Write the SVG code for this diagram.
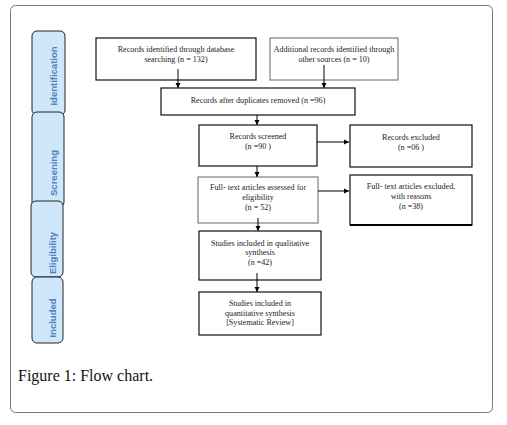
<svg xmlns="http://www.w3.org/2000/svg" width="507" height="425" viewBox="0 0 507 425">
<defs>
<marker id="ah" markerWidth="6" markerHeight="6" refX="5" refY="3" orient="auto" markerUnits="userSpaceOnUse">
<path d="M0,0.5 L5,3 L0,5.5 Z" fill="#000"/>
</marker>
<style>
.box{fill:#fff;stroke:#111;stroke-width:1.2}
.boxg{fill:#fff;stroke:#666;stroke-width:1}
.t{font-family:"Liberation Serif","Times New Roman",serif;font-size:8.1px;fill:#222;text-anchor:middle}
.tab{fill:#cfe7fb;stroke:#222;stroke-width:1}
.tt{font-family:"Liberation Sans",Arial,sans-serif;font-size:9.5px;font-weight:bold;fill:#4f7fbf;text-anchor:middle}
.c{stroke:#000;stroke-width:1;fill:none;marker-end:url(#ah)}
</style>
</defs>
<rect width="507" height="425" fill="#fff"/>
<rect x="10.5" y="5.5" width="482" height="407" rx="5" fill="#fff" stroke="#777" stroke-width="1"/>

<g id="tab-identification">
<rect class="tab" x="32" y="31" width="33" height="84" rx="5"/>
<text class="tt" transform="translate(57,76) rotate(-90)">Identification</text>
</g>
<g id="tab-screening">
<rect class="tab" x="32" y="112" width="32" height="95" rx="5"/>
<text class="tt" transform="translate(57,173) rotate(-90)">Screening</text>
</g>
<g id="tab-eligibility">
<rect class="tab" x="31" y="201" width="32" height="76" rx="5"/>
<text class="tt" transform="translate(56,253) rotate(-90)">Eligibility</text>
</g>
<g id="tab-included">
<rect class="tab" x="32" y="277" width="31" height="66" rx="5"/>
<text class="tt" transform="translate(56,318) rotate(-90)">Included</text>
</g>

<g id="box-database">
<rect class="box" x="96" y="38" width="160" height="42"/>
<text class="t" x="176" y="52">Records identified through database</text>
<text class="t" x="176" y="62">searching (n = 132)</text>
</g>
<g id="box-additional">
<rect class="boxg" x="270" y="38" width="128" height="42"/>
<text class="t" x="334" y="52">Additional records identified through</text>
<text class="t" x="334" y="62">other sources (n = 10)</text>
</g>
<g id="box-duplicates">
<rect class="box" x="161" y="88" width="194" height="27"/>
<text class="t" x="258" y="103">Records after duplicates removed (n =96)</text>
</g>
<g id="box-screened">
<rect class="box" x="199" y="125" width="118" height="41"/>
<text class="t" x="258" y="139">Records screened</text>
<text class="t" x="258" y="149">(n =90 )</text>
</g>
<g id="box-excluded">
<rect class="box" x="350" y="125" width="122" height="42"/>
<text class="t" x="411" y="140">Records excluded</text>
<text class="t" x="411" y="150">(n =06 )</text>
</g>
<g id="box-fulltext">
<rect class="boxg" x="198" y="177" width="120" height="46"/>
<text class="t" x="258" y="190">Full- text articles assessed for</text>
<text class="t" x="258" y="200">eligibility</text>
<text class="t" x="258" y="210">(n = 52)</text>
</g>
<g id="box-fulltext-excluded">
<rect class="box" x="350" y="175" width="122" height="50"/>
<line x1="350" y1="225" x2="472" y2="225" stroke="#000" stroke-width="2"/>
<text class="t" x="411" y="189">Full- text articles excluded,</text>
<text class="t" x="411" y="199">with reasons</text>
<text class="t" x="411" y="209">(n =38)</text>
</g>
<g id="box-qualitative">
<rect class="box" x="199" y="231" width="122" height="49"/>
<text class="t" x="260" y="246">Studies included in qualitative</text>
<text class="t" x="260" y="255">synthesis</text>
<text class="t" x="260" y="265">(n =42)</text>
</g>
<g id="box-quantitative">
<rect class="box" x="199" y="292" width="122" height="43"/>
<text class="t" x="260" y="306">Studies included in</text>
<text class="t" x="260" y="316">quantitative synthesis</text>
<text class="t" x="260" y="325">[Systematic Review]</text>
</g>

<g id="connectors">
<path class="c" d="M178 69 V88"/>
<path class="c" d="M324 65 V88"/>
<path class="c" d="M257 115 V125"/>
<path class="c" d="M317 142 H349"/>
<path class="c" d="M257 166 V177"/>
<path class="c" d="M318 191 H349"/>
<path class="c" d="M258 218 V231"/>
<path class="c" d="M257 273 V292"/>
</g>

<text x="18" y="381" font-family="Liberation Serif, Times New Roman, serif" font-size="16" fill="#111">Figure 1: Flow chart.</text>
</svg>
